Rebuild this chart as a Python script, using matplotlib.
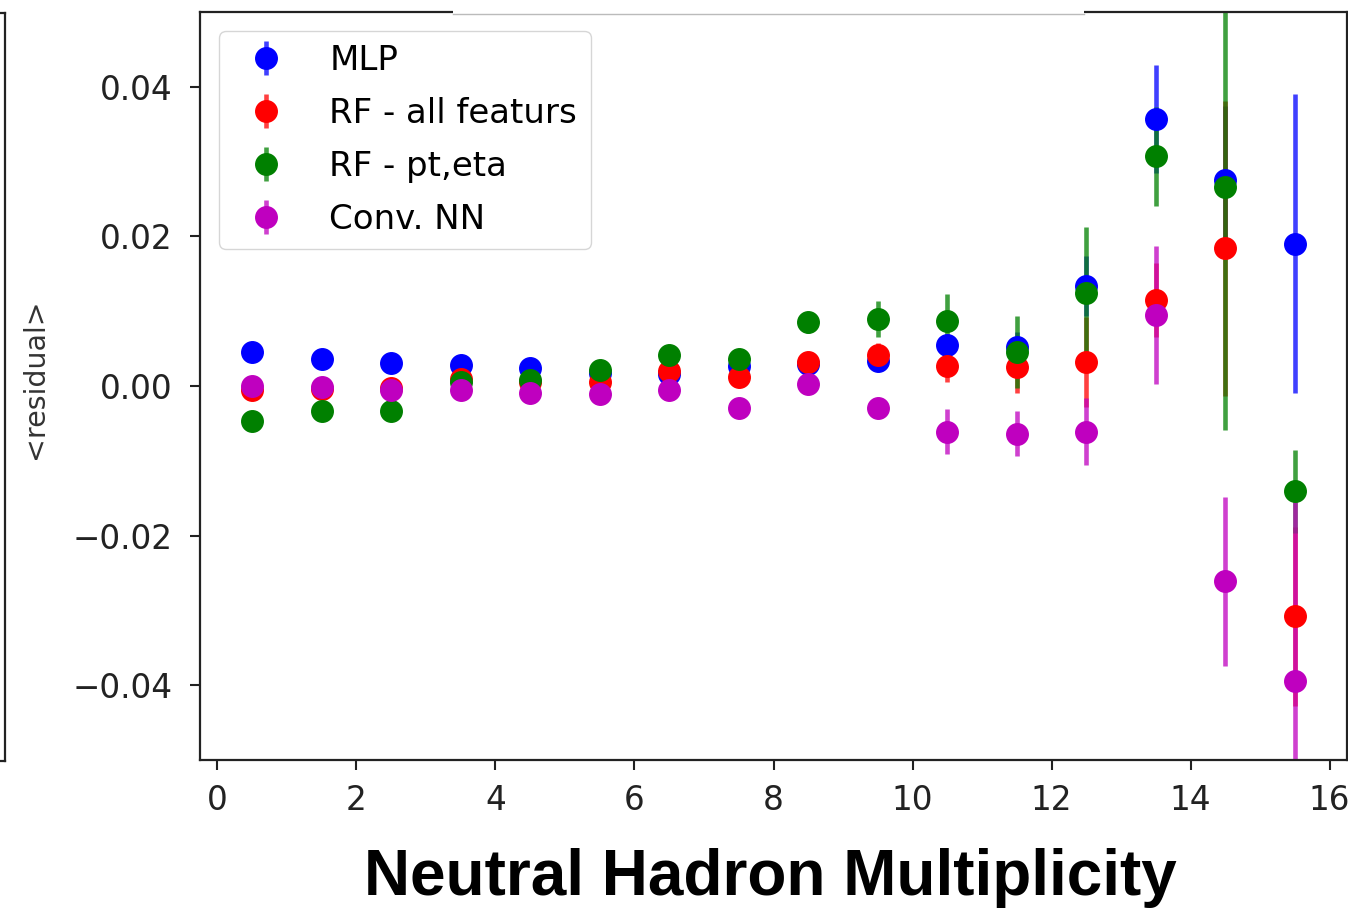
import numpy as np
import matplotlib
matplotlib.use('Agg')
import matplotlib.pyplot as plt
from matplotlib.lines import Line2D
from matplotlib.patches import Rectangle

# bin centres of the neutral hadron multiplicity
x = np.arange(16) + 0.5

labels = ['MLP', 'RF - all featurs', 'RF - pt,eta', 'Conv. NN']
colors = ['b', 'r', 'g', 'm']

mlp = [0.0045, 0.0036, 0.0031, 0.0028, 0.0024, 0.0018, 0.0016, 0.0027,
       0.0030, 0.0034, 0.0055, 0.0052, 0.0134, 0.0357, 0.0275, 0.0190]
mlp_err = [0.0003, 0.0003, 0.0003, 0.0003, 0.0003, 0.0004, 0.0005, 0.0006,
           0.0008, 0.0010, 0.0015, 0.0020, 0.0040, 0.0072, 0.0100, 0.0200]

rf_all = [-0.0005, -0.0004, -0.0003, 0.0010, 0.0005, 0.0006, 0.0020, 0.0012,
          0.0032, 0.0042, 0.0027, 0.0025, 0.0032, 0.0115, 0.0184, -0.0308]
rf_all_err = [0.0003, 0.0003, 0.0003, 0.0004, 0.0004, 0.0005, 0.0006, 0.0007,
              0.0009, 0.0015, 0.0021, 0.0035, 0.0060, 0.0050, 0.0197, 0.0120]

rf_pteta = [-0.0047, -0.0033, -0.0034, 0.0006, 0.0008, 0.0021, 0.0041, 0.0036,
            0.0085, 0.0089, 0.0087, 0.0045, 0.0125, 0.0307, 0.0266, -0.0141]
rf_pteta_err = [0.0004, 0.0004, 0.0004, 0.0004, 0.0005, 0.0006, 0.0008, 0.0010,
                0.0014, 0.0024, 0.0036, 0.0048, 0.0088, 0.0066, 0.0325, 0.0056]

conv = [0.0000, -0.0001, -0.0005, -0.0006, -0.0010, -0.0011, -0.0006, -0.0029,
        0.0003, -0.0029, -0.0061, -0.0064, -0.0061, 0.0095, -0.0261, -0.0395]
conv_err = [0.0003, 0.0003, 0.0003, 0.0004, 0.0004, 0.0005, 0.0006, 0.0007,
            0.0009, 0.0012, 0.0030, 0.0030, 0.0045, 0.0092, 0.0113, 0.0240]

series = [mlp, rf_all, rf_pteta, conv]
errors = [mlp_err, rf_all_err, rf_pteta_err, conv_err]

fig = plt.figure(figsize=(13.48, 9.08), dpi=100)
ax = fig.add_axes([200/1348, 1 - 760/908, 1147/1348, 748/908])

for y, e, c, lab in zip(series, errors, colors, labels):
    cont = ax.errorbar(x, y, yerr=e, fmt='o', color=c, ms=15.5,
                       elinewidth=3.3, label=lab)
    cont[0].set_zorder(3)
    for bc in cont[2]:
        bc.set_alpha(0.75)

ax.set_ylim(-0.05, 0.05)
ax.set_yticks([-0.04, -0.02, 0.0, 0.02, 0.04])
ax.set_xticks(range(0, 17, 2))

for s in ax.spines.values():
    s.set_linewidth(1.6)
    s.set_color('#222222')
ax.tick_params(labelsize=23.5, length=7, width=1.5, colors='#222222')
ax.tick_params(axis='y', pad=13)
ax.tick_params(axis='x', pad=10)

ax.set_ylabel('<residual>', fontsize=20.5, color='#333333')
ax.yaxis.set_label_coords(-0.132, 0.51)

leg = ax.legend(loc='upper left', fontsize=24.5, borderaxespad=0.55,
                handletextpad=0.85, labelspacing=0.58, framealpha=0.8)

fig.text(770/1348, 1 - 878/908, 'Neutral Hadron Multiplicity',
         fontsize=46, fontweight='bold', family='Liberation Sans',
         ha='center', va='center')

# edge of the neighbouring panel on the left
fig.add_artist(Line2D([5/1348, 5/1348], [1 - 13/908, 1 - 761/908],
                      color='#222222', lw=1.6))
fig.add_artist(Line2D([0, 5/1348], [1 - 761/908, 1 - 761/908],
                      color='#222222', lw=1.6))
fig.add_artist(Line2D([0, 5/1348], [1 - 13/908, 1 - 13/908],
                      color='#222222', lw=1.6))

# overlapping title box at the top
fig.add_artist(Rectangle((453/1348, 1 - 14/908), 631/1348, 14/908,
                         facecolor='white', edgecolor='none'))
fig.add_artist(Line2D([453/1348, 1084/1348], [1 - 14/908, 1 - 14/908],
                      color='#bbbbbb', lw=1))

fig.savefig('out.png', dpi=100)
